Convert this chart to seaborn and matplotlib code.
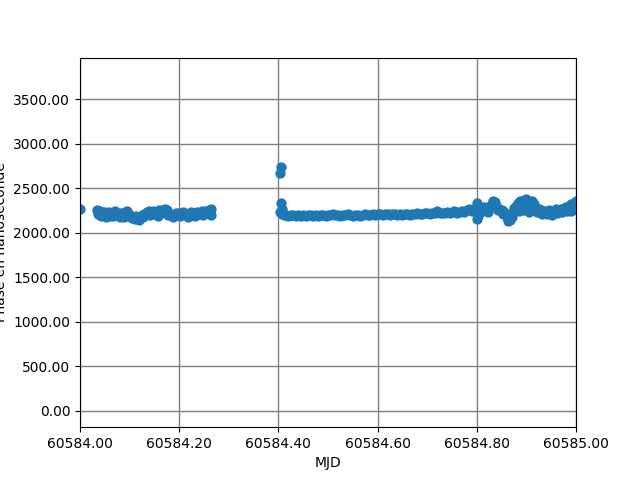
import pandas as pd
import matplotlib
matplotlib.use("Agg")
import matplotlib.pyplot as plt
import seaborn as sns
from matplotlib.ticker import FormatStrFormatter, MultipleLocator

# MJD and phase (ns)
mjd_a = [60584.000,
         60584.035, 60584.040, 60584.045, 60584.050, 60584.055, 60584.060,
         60584.065, 60584.070, 60584.075, 60584.080, 60584.085, 60584.090,
         60584.095, 60584.100, 60584.105, 60584.110, 60584.115, 60584.120,
         60584.125, 60584.130, 60584.135, 60584.140, 60584.145, 60584.150,
         60584.155, 60584.160, 60584.165, 60584.170, 60584.175, 60584.180,
         60584.185, 60584.190, 60584.195, 60584.200, 60584.205, 60584.210,
         60584.215, 60584.220, 60584.225, 60584.230, 60584.235, 60584.240,
         60584.245, 60584.250, 60584.255, 60584.260, 60584.265]
phase_a = [2265,
           2250, 2240, 2200, 2230, 2210, 2190,
           2220, 2240, 2200, 2180, 2200, 2230,
           2240, 2200, 2160, 2150, 2180, 2170,
           2200, 2210, 2230, 2240, 2220, 2210,
           2220, 2250, 2255, 2230, 2250, 2210,
           2190, 2200, 2210, 2220, 2210, 2220,
           2200, 2210, 2200, 2220, 2230, 2210,
           2240, 2220, 2240, 2250, 2265]

mjd_a2 = [60584.037, 60584.043, 60584.052, 60584.058, 60584.067, 60584.073,
          60584.082, 60584.088, 60584.097, 60584.103, 60584.112, 60584.118,
          60584.127, 60584.133, 60584.142, 60584.148, 60584.157, 60584.163,
          60584.172, 60584.178, 60584.187, 60584.193, 60584.202, 60584.208,
          60584.217, 60584.223, 60584.232, 60584.238, 60584.247, 60584.253,
          60584.262, 60584.264]
phase_a2 = [2210, 2190, 2180, 2230, 2190, 2210,
            2220, 2180, 2210, 2170, 2190, 2140,
            2180, 2220, 2200, 2240, 2190, 2220,
            2260, 2200, 2180, 2220, 2190, 2230,
            2180, 2230, 2190, 2210, 2200, 2215,
            2220, 2200]

mjd_jump = [60584.404, 60584.405, 60584.406, 60584.407]
phase_jump = [2670, 2740, 2330, 2260]

mjd_b = [60584.403, 60584.408, 60584.412, 60584.416, 60584.420, 60584.425,
         60584.430, 60584.435, 60584.440, 60584.445, 60584.450, 60584.455,
         60584.460, 60584.465, 60584.470, 60584.475, 60584.480, 60584.485,
         60584.490, 60584.495, 60584.500, 60584.505, 60584.510, 60584.515,
         60584.520, 60584.525, 60584.530, 60584.535, 60584.540, 60584.545,
         60584.550, 60584.555, 60584.560, 60584.565, 60584.570, 60584.575,
         60584.580, 60584.585, 60584.590, 60584.595, 60584.600, 60584.605,
         60584.610, 60584.615, 60584.620, 60584.625, 60584.630, 60584.635,
         60584.640, 60584.645, 60584.650, 60584.655, 60584.660, 60584.665,
         60584.670, 60584.675, 60584.680, 60584.685, 60584.690, 60584.695,
         60584.700, 60584.705, 60584.710, 60584.715, 60584.720, 60584.725,
         60584.730, 60584.735, 60584.740, 60584.745, 60584.750, 60584.755,
         60584.760, 60584.765, 60584.770, 60584.775, 60584.780, 60584.785,
         60584.790, 60584.795]
phase_b = [2230, 2210, 2195, 2200, 2190, 2195,
           2200, 2185, 2195, 2190, 2200, 2185,
           2195, 2200, 2190, 2195, 2190, 2200,
           2195, 2190, 2200, 2195, 2205, 2195,
           2200, 2190, 2200, 2195, 2205, 2195,
           2190, 2200, 2195, 2190, 2200, 2205,
           2195, 2200, 2205, 2200, 2210, 2205,
           2200, 2210, 2205, 2200, 2210, 2205,
           2200, 2210, 2200, 2205, 2210, 2200,
           2205, 2210, 2215, 2205, 2210, 2215,
           2220, 2210, 2225, 2215, 2240, 2220,
           2215, 2225, 2230, 2220, 2235, 2245,
           2225, 2230, 2240, 2235, 2250, 2260,
           2240, 2270]

mjd_c = [60584.800, 60584.800, 60584.802, 60584.805, 60584.810, 60584.815,
         60584.820, 60584.825, 60584.828, 60584.832, 60584.836, 60584.840,
         60584.845, 60584.850, 60584.855, 60584.860, 60584.863, 60584.866,
         60584.870, 60584.873, 60584.876, 60584.880, 60584.884, 60584.888,
         60584.892, 60584.896, 60584.900, 60584.904, 60584.908, 60584.912,
         60584.916, 60584.920, 60584.925, 60584.930, 60584.935, 60584.940,
         60584.945, 60584.950, 60584.955, 60584.960, 60584.965, 60584.970,
         60584.975, 60584.980, 60584.985, 60584.990, 60584.995, 60585.000,
         60584.885, 60584.895, 60584.905, 60584.915, 60584.990, 60584.998,
         60584.812, 60584.822, 60584.842, 60584.852, 60584.922, 60584.932,
         60584.942, 60584.952, 60584.962, 60584.972, 60584.982]
phase_c = [2330, 2150, 2190, 2250, 2270, 2290,
           2280, 2290, 2310, 2360, 2340, 2290,
           2260, 2250, 2230, 2170, 2130, 2140,
           2170, 2230, 2280, 2300, 2330, 2360,
           2340, 2370, 2380, 2350, 2330, 2360,
           2320, 2280, 2260, 2250, 2240, 2230,
           2250, 2230, 2240, 2260, 2250, 2270,
           2280, 2290, 2300, 2320, 2330, 2350,
           2240, 2250, 2230, 2250, 2240, 2260,
           2240, 2230, 2250, 2210, 2230, 2210,
           2210, 2200, 2220, 2230, 2240]

df = pd.DataFrame({
    "mjd": mjd_a + mjd_a2 + mjd_jump + mjd_b + mjd_c,
    "phase": phase_a + phase_a2 + phase_jump + phase_b + phase_c,
})

fig, ax = plt.subplots(figsize=(6.4, 4.8), dpi=100)
sns.scatterplot(data=df, x="mjd", y="phase", ax=ax, color="#1f77b4",
                s=55, linewidth=0, alpha=1.0, legend=False)

ax.set_xlim(60584.0, 60585.0)
ax.set_ylim(-185, 3965)
ax.xaxis.set_major_locator(MultipleLocator(0.2))
ax.yaxis.set_major_locator(MultipleLocator(500))
ax.xaxis.set_major_formatter(FormatStrFormatter("%.2f"))
ax.yaxis.set_major_formatter(FormatStrFormatter("%.2f"))
ax.grid(True, color="gray", linewidth=1.0)
ax.set_axisbelow(True)
ax.set_xlabel("MJD")
ax.set_ylabel("Phase en nanoseconde")

fig.savefig("out.png", dpi=100)
